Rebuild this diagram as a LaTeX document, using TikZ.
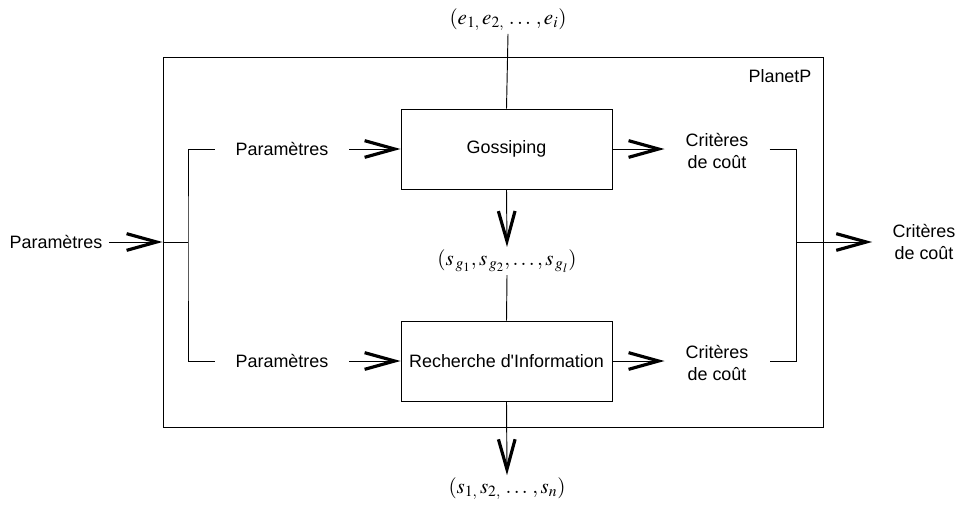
\documentclass[tikz,border=0pt]{standalone}
\usepackage{mathptmx}
\usepackage[no-math]{fontspec}
\setmainfont{Liberation Sans}
\usetikzlibrary{arrows.meta,positioning}

\begin{document}
\begin{tikzpicture}[
x=0.03cm, y=-0.03cm,
font=\fontsize{15.3}{18}\selectfont,
every path/.style={line width=0.8pt},
block/.style={draw, minimum width=6.33cm, minimum height=2.4cm, inner sep=2pt},
lbl/.style={align=center, inner xsep=0.62cm, inner ysep=0pt},
mlbl/.style={font=\fontsize{18}{21}\selectfont, inner sep=2pt},
>={Straight Barb[length=0.9cm, width=0.5cm, line width=2.7pt]}
]
\useasboundingbox (0,0) rectangle (963,505);

\node[draw, minimum width=19.8cm, minimum height=11.1cm] (planet) at (493,242) {};
\node at (780,76) (name) {PlanetP};

\node[block] (goss) at (506.5,149) {Gossiping};
\node[block] (rech) at (506.5,361) {Recherche d\textquotesingle Information};

\node[inner xsep=0.18cm] (in) at (56,242) {Paramètres};
\node[lbl] (p1) at (282,149) {Paramètres};
\node[lbl] (p2) at (282,361) {Paramètres};
\node[lbl] (c1) at (717,151) {Critères\\de coût};
\node[lbl] (c2) at (717,363) {Critères\\de coût};
\node[lbl, inner xsep=0.6cm] (out) at (924,242) {Critères\\de coût};

\node[mlbl] (e) at (508,20) {$(e_{1,}\,e_{2,}\,\ldots\,,e_i)$};
\node[mlbl] (sg) at (507,261) {$(s_{\,g_1},s_{\,g_2},\ldots,s_{\,g_l})$};
\node[mlbl] (s) at (507,489) {$(s_{1,}\,s_{2,}\,\ldots\,,s_n)$};

\coordinate (split) at (188,242);
\coordinate (join) at (796,242);

% entrees
\draw[->] (in.east) -- (planet.west);
\draw (planet.west) -- (split);
\draw (p1.west) -| (split) |- (p2.west);
\draw[->] (p1.east) -- (goss.west);
\draw[->] (p2.east) -- (rech.west);

% sorties
\draw[->] (goss.east) -- (c1.west |- goss.east);
\draw[->] (rech.east) -- (c2.west |- rech.east);
\draw (c1.east |- goss.east) -| (join) |- (c2.east |- rech.east);
\draw[->] (join) -- (out.west);

% verticales
\draw (e.south) -- (goss.north);
\draw[->] (goss.south) -- (sg.north);
\draw (sg.south) -- (rech.north);
\draw[->] (rech.south) -- (s.north);
\end{tikzpicture}
\end{document}
